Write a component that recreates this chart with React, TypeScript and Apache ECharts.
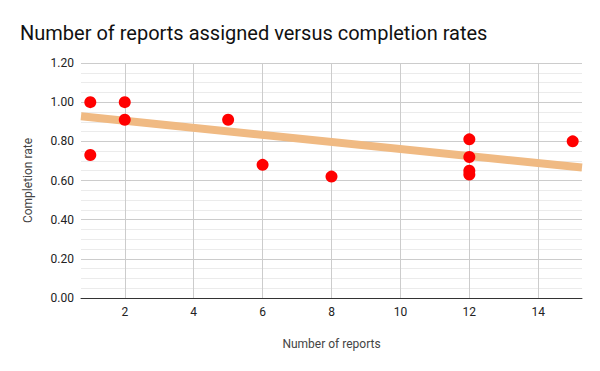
import React, { useEffect, useRef } from "react";
import * as echarts from "echarts";

const reportCounts = [1, 1, 2, 2, 5, 6, 8, 12, 12, 12, 12, 15];
const completionRates = [1.0, 0.73, 1.0, 0.91, 0.91, 0.68, 0.62, 0.81, 0.72, 0.65, 0.63, 0.8];
const trendX = [0.73, 15.27];
const trendY = [0.928, 0.666];
const xTicks = [2, 4, 6, 8, 10, 12, 14];

export default function App() {
  const ref = useRef<HTMLDivElement>(null);
  useEffect(() => {
    const chart = echarts.init(ref.current!, undefined, { renderer: "svg" });
    const font = "Roboto, 'Noto Sans', sans-serif";
    chart.setOption({
      animation: false,
      title: {
        text: "Number of reports assigned versus completion rates",
        left: 15,
        top: 18,
        textStyle: { fontFamily: font, fontSize: 20, fontWeight: "normal", color: "#111" },
      },
      grid: { left: 81, right: 18, top: 63, bottom: 73 },
      xAxis: {
        type: "value",
        min: trendX[0],
        max: trendX[1],
        name: "Number of reports",
        nameLocation: "middle",
        nameGap: 40,
        nameTextStyle: { fontFamily: font, fontSize: 12, color: "#444" },
        axisLine: { show: true, lineStyle: { color: "#333", width: 1 } },
        axisTick: { show: false, customValues: xTicks },
        axisLabel: { customValues: xTicks, fontFamily: font, fontSize: 12, color: "#222", margin: 8 },
        splitLine: { show: true, customValues: xTicks, lineStyle: { color: "#cccccc" } },
      },
      yAxis: {
        type: "value",
        min: 0,
        max: 1.2,
        interval: 0.2,
        name: "Completion rate",
        nameLocation: "middle",
        nameGap: 47,
        nameTextStyle: { fontFamily: font, fontSize: 12, color: "#444" },
        axisLine: { show: false },
        axisTick: { show: false },
        axisLabel: {
          fontFamily: font,
          fontSize: 12,
          color: "#222",
          margin: 7,
          formatter: (v: number) => v.toFixed(2),
        },
        splitLine: { show: true, lineStyle: { color: "#cccccc" } },
        minorTick: { show: false, splitNumber: 4 },
        minorSplitLine: { show: true, lineStyle: { color: "#ebebeb" } },
      },
      series: [
        {
          type: "line",
          data: trendX.map((x, i) => [x, trendY[i]]),
          symbol: "none",
          lineStyle: { color: "#f0ba83", width: 8 },
          z: 1,
          silent: true,
        },
        {
          type: "scatter",
          data: reportCounts.map((x, i) => [x, completionRates[i]]),
          symbol: "circle",
          symbolSize: 12,
          itemStyle: { color: "#ff0000", opacity: 1 },
          z: 3,
        },
      ],
    });
    return () => chart.dispose();
  }, []);
  return <div ref={ref} style={{ width: 600, height: 371, position: "absolute", left: 0, top: 0 }} />;
}
